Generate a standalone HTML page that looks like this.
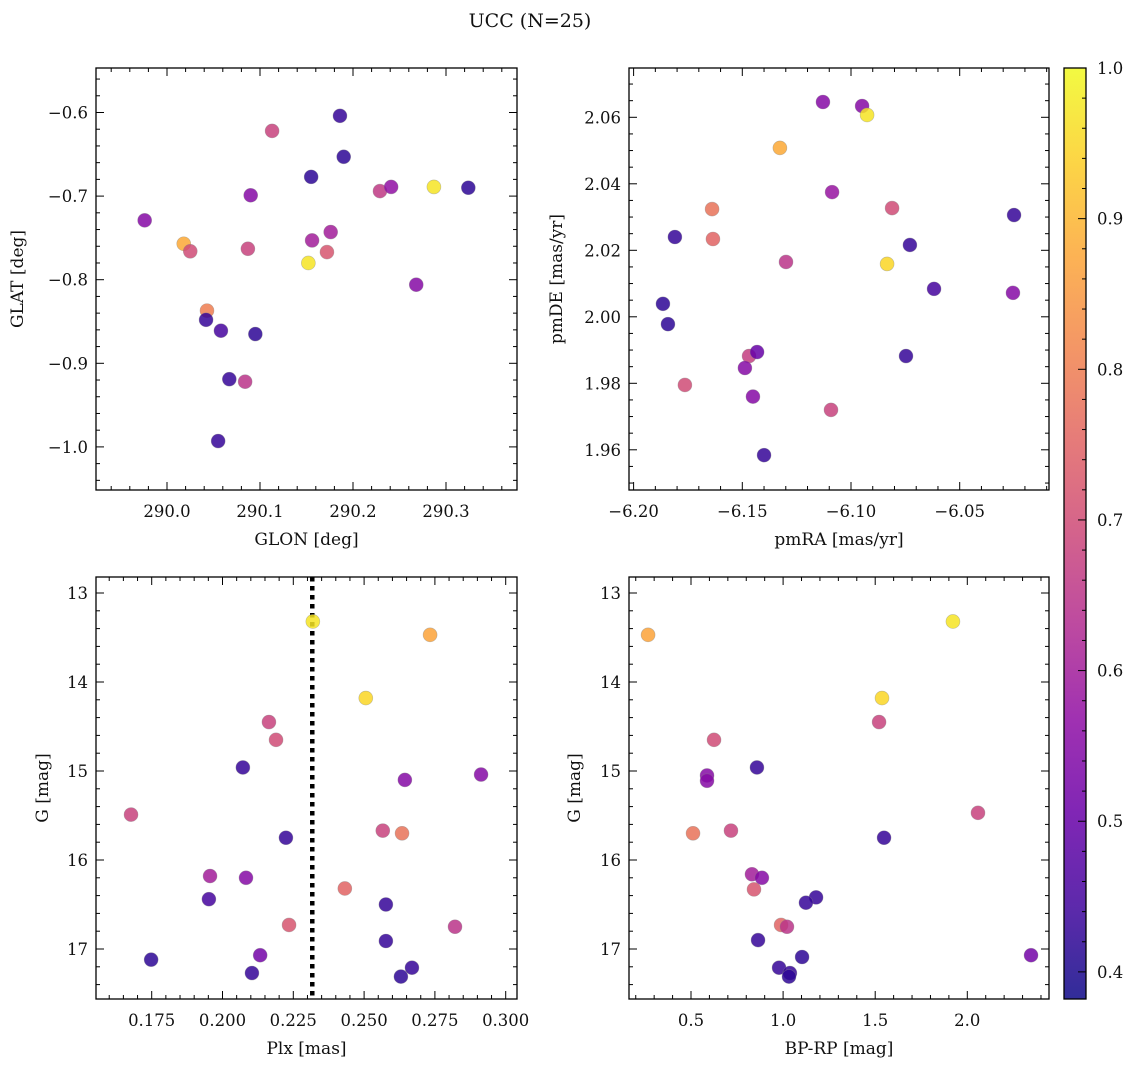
<!DOCTYPE html>
<html><head><meta charset="utf-8"><style>
html,body{margin:0;padding:0;background:#fff;}
svg text{font-family:"DejaVu Serif","Liberation Serif",serif;fill:#111;}
</style></head><body>
<svg id="fig" width="1136" height="1067" viewBox="0 0 1136 1067" xmlns="http://www.w3.org/2000/svg">
<defs>
<linearGradient id="cbg" x1="0" y1="1" x2="0" y2="0">
<stop offset="0" stop-color="#0d0887"/><stop offset="0.1" stop-color="#41049d"/><stop offset="0.2" stop-color="#6a00a8"/><stop offset="0.3" stop-color="#8f0da4"/><stop offset="0.4" stop-color="#b12a90"/><stop offset="0.5" stop-color="#cc4778"/><stop offset="0.6" stop-color="#e16462"/><stop offset="0.7" stop-color="#f2844b"/><stop offset="0.8" stop-color="#fca636"/><stop offset="0.9" stop-color="#fcce25"/><stop offset="1" stop-color="#f0f921"/>
</linearGradient>
</defs>
<text x="530" y="27" font-size="19" text-anchor="middle">UCC (N=25)</text>
</svg>
<script>
// Panel 1: GLON vs GLAT
const glon=[289.976,290.018,290.025,290.113,290.090,290.087,290.043,290.042,290.058,290.095,290.067,290.084,290.055,290.155,290.156,290.152,290.176,290.172,290.186,290.190,290.229,290.241,290.287,290.324,290.268];
const glat=[-0.729,-0.757,-0.766,-0.622,-0.699,-0.763,-0.837,-0.848,-0.861,-0.865,-0.919,-0.922,-0.993,-0.677,-0.753,-0.780,-0.743,-0.767,-0.604,-0.653,-0.694,-0.689,-0.689,-0.690,-0.806];
const c1=[0.55,0.88,0.70,0.68,0.55,0.68,0.80,0.43,0.45,0.42,0.43,0.65,0.43,0.42,0.60,0.97,0.60,0.72,0.43,0.42,0.66,0.57,0.97,0.42,0.55];
// Panel 2: pmRA vs pmDE
const pmra=[-6.1865,-6.1842,-6.1810,-6.1764,-6.1639,-6.1635,-6.1469,-6.1432,-6.1488,-6.1451,-6.1400,-6.1299,-6.1327,-6.1129,-6.1092,-6.1087,-6.0949,-6.0926,-6.0834,-6.0811,-6.0729,-6.0747,-6.0618,-6.0250,-6.0255];
const pmde=[2.0039,1.9978,2.0240,1.9795,2.0324,2.0234,1.9882,1.9894,1.9846,1.9760,1.9584,2.0165,2.0508,2.0646,1.9720,2.0375,2.0634,2.0607,2.0159,2.0327,2.0216,1.9882,2.0084,2.0306,2.0072];
const c2=[0.42,0.42,0.43,0.70,0.78,0.75,0.67,0.50,0.55,0.55,0.43,0.65,0.88,0.55,0.68,0.58,0.55,0.97,0.95,0.70,0.43,0.43,0.45,0.43,0.55];
// Panel 3: Plx vs G
const plx=[0.1677,0.1748,0.1956,0.1952,0.2072,0.2083,0.2104,0.2133,0.2164,0.2189,0.2224,0.2235,0.2319,0.2432,0.2506,0.2566,0.2577,0.2577,0.2630,0.2644,0.2634,0.2669,0.2733,0.2821,0.2913];
const g3=[15.49,17.12,16.18,16.44,14.96,16.20,17.27,17.07,14.45,14.65,15.75,16.73,13.32,16.32,14.18,15.67,16.50,16.91,17.31,15.10,15.70,17.21,13.47,16.75,15.04];
const c3=[0.68,0.42,0.60,0.45,0.43,0.55,0.43,0.52,0.68,0.70,0.43,0.72,0.97,0.75,0.95,0.68,0.43,0.43,0.42,0.55,0.78,0.43,0.87,0.65,0.55];
const plxLine=0.2317;
// Panel 4: BP-RP vs G
const bprp=[0.267,1.922,1.537,1.521,0.625,0.587,0.587,0.858,0.511,0.717,2.058,1.548,0.831,0.885,0.842,1.179,1.124,0.989,1.021,0.864,0.978,1.037,1.032,1.103,2.346];
const g4=[13.47,13.32,14.18,14.45,14.65,15.05,15.11,14.96,15.70,15.67,15.47,15.75,16.16,16.20,16.33,16.42,16.48,16.73,16.75,16.90,17.21,17.27,17.31,17.09,17.07];
const c4=[0.87,0.97,0.95,0.68,0.70,0.55,0.55,0.43,0.78,0.68,0.68,0.43,0.60,0.55,0.72,0.43,0.43,0.75,0.65,0.43,0.43,0.43,0.42,0.42,0.52];
// tick labels
const ticks1x=[290.0,290.1,290.2,290.3], ticks1y=[-0.6,-0.7,-0.8,-0.9,-1.0];
const ticks2x=[-6.20,-6.15,-6.10,-6.05], ticks2y=[2.06,2.04,2.02,2.00,1.98,1.96];
const ticks3x=[0.175,0.200,0.225,0.250,0.275,0.300], ticksGy=[13,14,15,16,17];
const ticks4x=[0.5,1.0,1.5,2.0];
const cbTicks=[0.4,0.5,0.6,0.7,0.8,0.9,1.0];
const cmin=0.382,cmax=1.0;

const NS='http://www.w3.org/2000/svg';
const svg=document.getElementById('fig');
function mk(tag,attrs,parent){const e=document.createElementNS(NS,tag);for(const k in attrs)e.setAttribute(k,attrs[k]);(parent||svg).appendChild(e);return e;}
const stops=[[13,8,135],[65,4,157],[106,0,168],[143,13,164],[177,42,144],[204,71,120],[225,100,98],[242,132,75],[252,166,54],[252,206,37],[240,249,33]];
function plasma(v){let t=(v-cmin)/(cmax-cmin);t=Math.max(0,Math.min(1,t))*10;const i=Math.min(9,Math.floor(t)),f=t-i;const a=stops[i],b=stops[i+1];return 'rgb('+a.map((x,k)=>Math.round(x+(b[k]-x)*f)).join(',')+')';}
function minus(s){return s.replace('-','\u2212');}

function panel(p){
  const sx=v=>p.x0px+(v-p.x0)*p.kx, sy=v=>p.y0px+(v-p.y0)*p.ky;
  const g=mk('g',{});
  
  
  const L=p.L,R=p.R,T=p.T,B=p.B;
  if(p.vline!==undefined){const ln=mk('line',{x1:sx(p.vline),x2:sx(p.vline),y1:T,y2:B,stroke:'#000','stroke-width':4.5,'stroke-dasharray':'4.5,4.5'},g);
    
    }
  for(let i=0;i<p.xs.length;i++){
    const c=mk('circle',{cx:sx(p.xs[i]),cy:sy(p.ys[i]),r:7,fill:plasma(p.cs[i]),'fill-opacity':0.85,stroke:'#888','stroke-opacity':0.5,'stroke-width':0.6},g);
    
    
  }
  const xMinV=p.x0+(L-p.x0px)/p.kx, xMaxV=p.x0+(R-p.x0px)/p.kx;
  const xs0=Math.abs(p.xt[1]-p.xt[0])/p.xm;
  for(let k=Math.ceil((xMinV-p.xt[0])/xs0);p.xt[0]+k*xs0<=xMaxV+1e-9;k++){
    const v=p.xt[0]+k*xs0;const X=sx(v);const major=Math.abs(Math.round(k)%p.xm)===0;const len=major?8:4;
    mk('line',{x1:X,x2:X,y1:B,y2:B-len,stroke:'#000','stroke-width':1},g);
    mk('line',{x1:X,x2:X,y1:T,y2:T+len,stroke:'#000','stroke-width':1},g);
  }
  const yA=p.y0+(T-p.y0px)/p.ky, yB=p.y0+(B-p.y0px)/p.ky;
  const yMinV=Math.min(yA,yB), yMaxV=Math.max(yA,yB);
  const ys0=Math.abs(p.yt[1]-p.yt[0])/p.ym;
  for(let k=Math.ceil((yMinV-p.yt[0])/ys0);p.yt[0]+k*ys0<=yMaxV+1e-9;k++){
    const v=p.yt[0]+k*ys0;const Y=sy(v);const major=Math.abs(Math.round(k)%p.ym)===0;const len=major?8:4;
    mk('line',{x1:L,x2:L+len,y1:Y,y2:Y,stroke:'#000','stroke-width':1},g);
    mk('line',{x1:R,x2:R-len,y1:Y,y2:Y,stroke:'#000','stroke-width':1},g);
  }
  mk('rect',{x:L,y:T,width:R-L,height:B-T,fill:'none',stroke:'#000','stroke-width':1.3},g);
  p.xt.forEach(v=>{const t=mk('text',{x:sx(v),y:B+27,'font-size':16.5,'text-anchor':'middle'},g);t.textContent=minus(v.toFixed(p.xd));
    
    });
  p.yt.forEach(v=>{const t=mk('text',{x:L-8,y:sy(v)+6,'font-size':16.5,'text-anchor':'end'},g);t.textContent=minus(v.toFixed(p.yd));
    
    });
  const xl=mk('text',{x:(L+R)/2,y:B+55,'font-size':17,'text-anchor':'middle'},g);xl.textContent=p.xlab;
  
  
  const yl=mk('text',{x:0,y:0,'font-size':17,'text-anchor':'middle',transform:'translate('+p.ylx+','+((T+B)/2)+') rotate(-90)'},g);yl.textContent=p.ylab;
  
  
}
panel({name:'glon-glat-panel',L:96,R:517,T:68,B:490,x0:290.0,x0px:167,kx:930,y0:-0.6,y0px:112.5,ky:-836,xs:glon,ys:glat,cs:c1,xt:ticks1x,yt:ticks1y,xm:5,ym:5,xd:1,yd:1,xlab:'GLON [deg]',ylab:'GLAT [deg]',ylx:23});
panel({name:'pm-panel',L:629,R:1049,T:68,B:490,x0:-6.10,x0px:851,kx:2174,y0:2.06,y0px:117.3,ky:-3325,xs:pmra,ys:pmde,cs:c2,xt:ticks2x,yt:ticks2y,xm:5,ym:4,xd:2,yd:2,xlab:'pmRA [mas/yr]',ylab:'pmDE [mas/yr]',ylx:562});
panel({name:'plx-g-panel',L:96,R:517,T:577,B:999,x0:0.175,x0px:151.7,kx:2832,y0:13,y0px:593,ky:89,xs:plx,ys:g3,cs:c3,xt:ticks3x,yt:ticksGy,xm:5,ym:5,xd:3,yd:0,xlab:'Plx [mas]',ylab:'G [mag]',ylx:48,vline:plxLine});
panel({name:'cmd-panel',L:629,R:1049,T:577,B:999,x0:0.5,x0px:691,kx:184.2,y0:13,y0px:593,ky:89,xs:bprp,ys:g4,cs:c4,xt:ticks4x,yt:ticksGy,xm:5,ym:5,xd:1,yd:0,xlab:'BP-RP [mag]',ylab:'G [mag]',ylx:580});
// colorbar
const cb=mk('g',{});


const cT=68,cB=999,cL=1064,cR=1086;
const cy=v=>cB-(v-cmin)/(cmax-cmin)*(cB-cT);
mk('rect',{x:cL,y:cT,width:cR-cL,height:cB-cT,fill:'url(#cbg)','fill-opacity':0.85},cb);
for(let k=0;k<=31;k++){const v=0.38+k*0.02;if(v<cmin-1e-9||v>cmax+1e-9)continue;const major=k%5===1;mk('line',{x1:cR,x2:cR-(major?8:4),y1:cy(v),y2:cy(v),stroke:'#000','stroke-width':1},cb);}
mk('rect',{x:cL,y:cT,width:cR-cL,height:cB-cT,fill:'none',stroke:'#000','stroke-width':1.3},cb);
cbTicks.forEach(v=>{const t=mk('text',{x:cR+11,y:cy(v)+6,'font-size':16.5},cb);t.textContent=v.toFixed(1);
  
  });
</script>
</body></html>
